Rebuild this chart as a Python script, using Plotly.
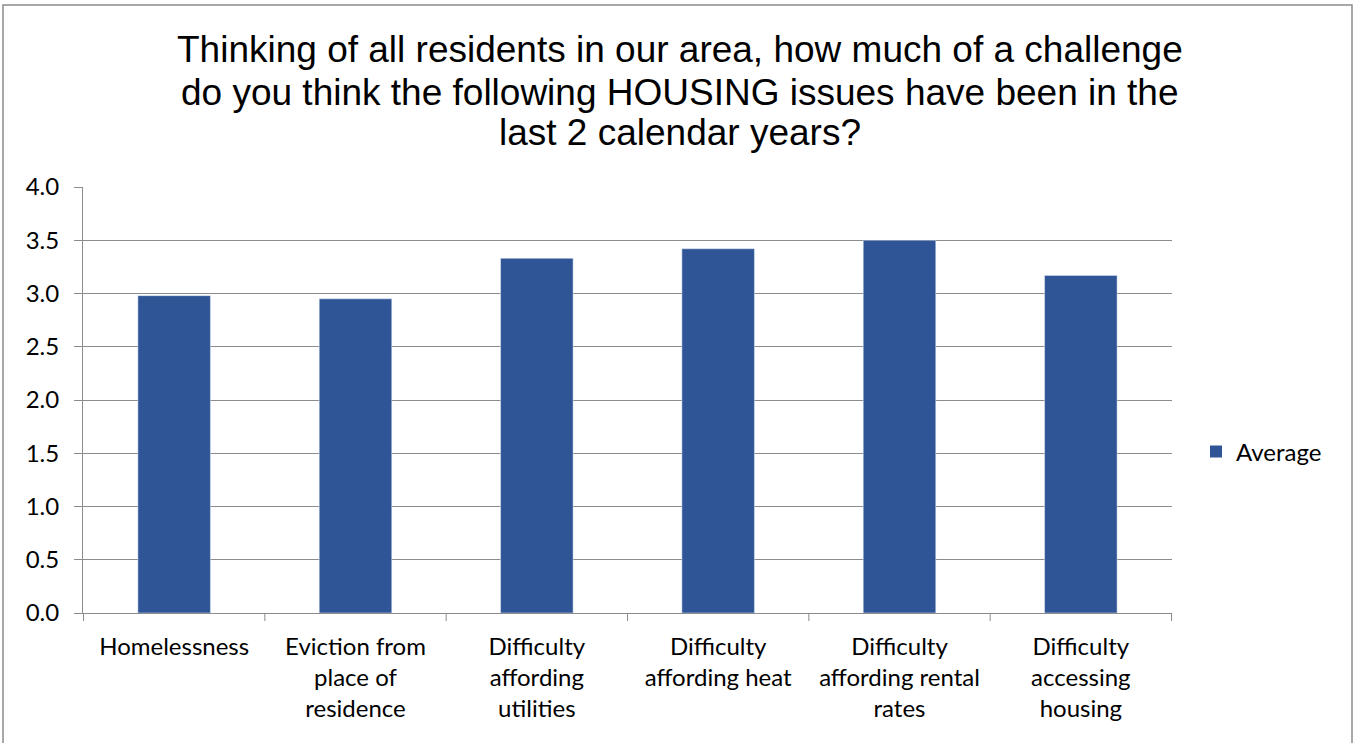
import plotly.graph_objects as go

categories = ["Homelessness", "Eviction from<br>place of<br>residence", "Difficulty<br>affording<br>utilities",
              "Difficulty<br>affording heat", "Difficulty<br>affording rental<br>rates", "Difficulty<br>accessing<br>housing"]
values = [2.98, 2.95, 3.33, 3.42, 3.50, 3.17]
y_ticks = [0.0, 0.5, 1.0, 1.5, 2.0, 2.5, 3.0, 3.5, 4.0]
y_tick_labels = ["0.0", "0.5", "1.0", "1.5", "2.0", "2.5", "3.0", "3.5", "4.0"]
title_lines = ["Thinking of all residents in our area, how much of a challenge",
               "do you think the following HOUSING issues have been in the",
               "last 2 calendar years?"]

W, H = 1353, 743
L, R, T, B = 83, 181, 187, 130
PW, PH = W - L - R, H - T - B
BAR_COLOR = "#2F5597"

fig = go.Figure()
fig.add_trace(go.Bar(x=categories, y=values, name="Average", marker_color=BAR_COLOR,
                     width=0.4, showlegend=False))
# legend entry with a larger square swatch
fig.add_trace(go.Scatter(x=[None], y=[None], mode="markers", name="Average",
                         marker=dict(symbol="square", size=15, color=BAR_COLOR), showlegend=True))

fig.update_layout(
    width=W, height=H,
    paper_bgcolor="white", plot_bgcolor="white",
    margin=dict(l=L, r=R, t=T, b=B, autoexpand=False),
    font=dict(family="Lato, Open Sans, sans-serif", size=24, color="black"),
    showlegend=True,
    legend=dict(x=(1196 - L) / PW, y=(H - B - 452) / PH, xanchor="left", yanchor="middle",
                font=dict(size=24), itemsizing="constant", itemwidth=30),
    bargap=0.6,
)
title_y_px = [49, 92, 133]
for line, ypx in zip(title_lines, title_y_px):
    fig.add_annotation(text=line, xref="paper", yref="paper",
                       x=(680 - L) / PW, y=(H - B - ypx) / PH, xanchor="center", yanchor="middle",
                       showarrow=False, font=dict(family="Liberation Sans, Arial", size=37, color="black"))

fig.update_yaxes(range=[0, 4], tickvals=y_ticks, ticktext=y_tick_labels, showgrid=True,
                 gridcolor="#8c8c8c", gridwidth=1, showline=True, linecolor="#8c8c8c",
                 ticks="outside", ticklen=8, tickcolor="#8c8c8c", zeroline=False,
                 tickfont=dict(size=24), ticklabelstandoff=10)
fig.update_xaxes(showline=True, linecolor="#8c8c8c", ticks="", showgrid=False,
                 tickfont=dict(size=24), ticklabelstandoff=12)
for i in range(len(categories) + 1):
    fig.add_shape(type="line", xref="x", yref="paper", x0=i - 0.5, x1=i - 0.5, y0=0, y1=-8 / PH,
                  line=dict(color="#8c8c8c", width=1))
fig.add_shape(type="rect", xref="paper", yref="paper",
              x0=(3 - L) / PW, x1=(1352 - L) / PW,
              y0=(H - B - 760) / PH, y1=(H - B - 5) / PH,
              line=dict(color="#8c8c8c", width=1.5), layer="below")

fig.write_html("out.html", config={"displayModeBar": False},
               post_script="document.body.style.margin='0';")
